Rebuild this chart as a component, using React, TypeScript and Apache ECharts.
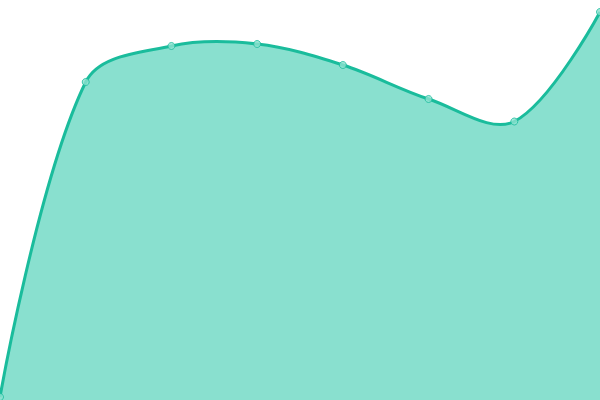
import React, { useEffect, useRef } from "react";
import * as echarts from "echarts";

const categories = ["A", "B", "C", "D", "E", "F", "G", "H"];
const values = [3, 318, 354, 356, 335, 301, 278.5, 388];

const SMOOTH = 0.35;

function dist(a: number[], b: number[]) {
  return Math.hypot(a[0] - b[0], a[1] - b[1]);
}

function smoothPath(pts: number[][], smooth: number): string {
  const xs = pts.map((p) => p[0]);
  const ys = pts.map((p) => p[1]);
  const mn = [Math.min(...xs), Math.min(...ys)];
  const mx = [Math.max(...xs), Math.max(...ys)];
  const clamp = (c: number[]) => [
    Math.max(mn[0], Math.min(mx[0], c[0])),
    Math.max(mn[1], Math.min(mx[1], c[1])),
  ];
  let d = `M${pts[0][0]} ${pts[0][1]}`;
  let cp0 = [pts[0][0], pts[0][1]];
  for (let i = 1; i < pts.length; i++) {
    const p = pts[i];
    const prev = pts[i - 1];
    const next = pts[i + 1];
    let cp1: number[];
    let ratio = 0.5;
    let v = [0, 0];
    if (!next) {
      cp1 = [p[0], p[1]];
    } else {
      v = [next[0] - prev[0], next[1] - prev[1]];
      const l0 = dist(p, prev);
      const l1 = dist(p, next);
      ratio = l1 / (l0 + l1);
      cp1 = [p[0] - v[0] * smooth * (1 - ratio), p[1] - v[1] * smooth * (1 - ratio)];
    }
    const a = clamp(cp0);
    const b = clamp(cp1);
    d += ` C${a[0]} ${a[1]} ${b[0]} ${b[1]} ${p[0]} ${p[1]}`;
    cp0 = [p[0] + v[0] * smooth * ratio, p[1] + v[1] * smooth * ratio];
  }
  return d;
}

export default function App() {
  const ref = useRef<HTMLDivElement>(null);
  useEffect(() => {
    if (!ref.current) return;
    const chart = echarts.init(ref.current, undefined, { renderer: "svg" });
    chart.setOption({
      animation: false,
      grid: { left: 0, right: 0, top: 0, bottom: 0 },
      xAxis: {
        type: "category",
        data: categories,
        boundaryGap: false,
        show: false,
      },
      yAxis: { type: "value", min: 0, max: 400, show: false },
      series: [
        {
          type: "custom",
          data: values,
          clip: false,
          renderItem: (params: any, api: any) => {
            if (params.dataIndex !== 0) return null;
            const pts = values.map((v, i) => api.coord([i, v]));
            const line = smoothPath(pts, SMOOTH);
            const base0 = api.coord([0, 0]);
            const base1 = api.coord([values.length - 1, 0]);
            const area =
              line +
              ` L${base1[0]} ${base1[1]} L${base0[0]} ${base0[1]} Z`;
            return {
              type: "group",
              children: [
                {
                  type: "path",
                  shape: { pathData: area },
                  style: { fill: "#89e0cf", stroke: "none" },
                },
                {
                  type: "path",
                  shape: { pathData: line },
                  style: { fill: "none", stroke: "#1abc9c", lineWidth: 3 },
                },
              ],
            };
          },
        },
        {
          type: "scatter",
          data: values,
          symbol: "circle",
          symbolSize: 7,
          z: 5,
          itemStyle: { color: "#8ee2d1", borderColor: "#1abc9c", borderWidth: 1 },
        },
      ],
    });
    return () => chart.dispose();
  }, []);
  return (
    <div
      ref={ref}
      style={{ position: "fixed", left: 0, top: 0, width: 600, height: 400 }}
    />
  );
}
